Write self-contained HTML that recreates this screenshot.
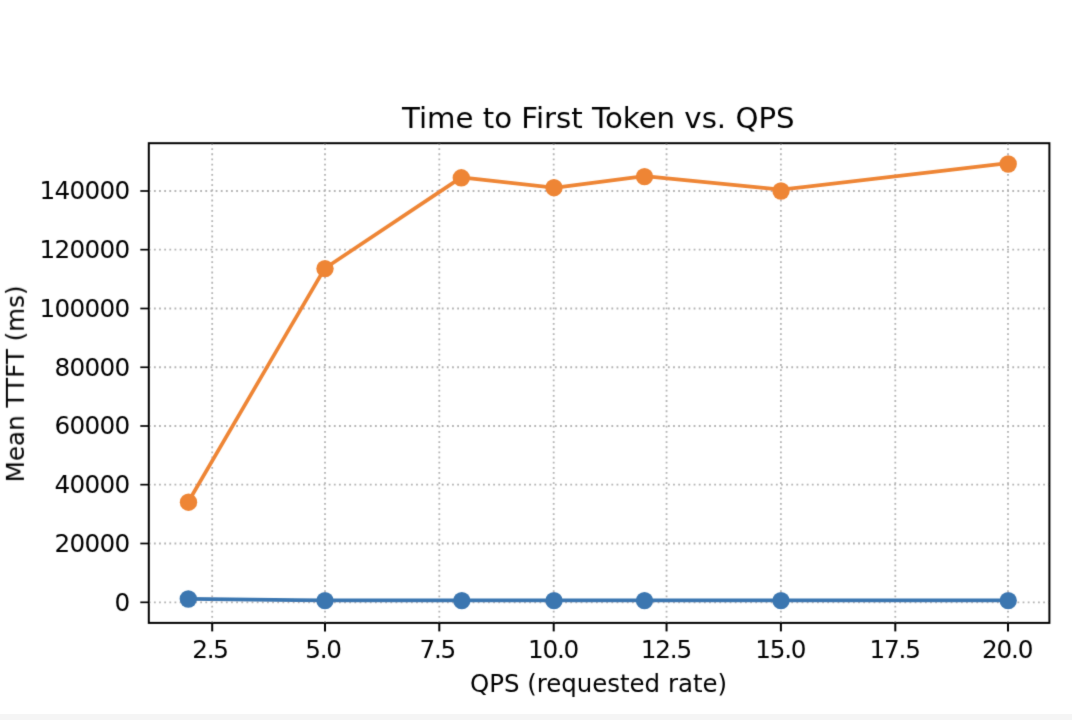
<!DOCTYPE html><html><head><meta charset="utf-8"><title>Time to First Token vs. QPS</title>
<style>html,body{margin:0;padding:0;background:#fff;overflow:hidden}body{width:1072px;height:720px;position:relative}svg{position:absolute;left:0;top:0;display:block}text{font-family:"DejaVu Sans","Liberation Sans",sans-serif;fill:#000}</style></head><body>
<svg width="1072" height="720" viewBox="0 0 1072 720">
<rect x="0" y="0" width="1072" height="720" fill="#ffffff"/>
<rect x="0" y="714" width="1072" height="6" fill="#f5f5f5"/>
<defs><filter id="soft" x="0" y="0" width="1072" height="720" filterUnits="userSpaceOnUse"><feConvolveMatrix order="3" kernelMatrix="0.01440 0.09120 0.01440 0.09120 0.57760 0.09120 0.01440 0.09120 0.01440" divisor="1" edgeMode="duplicate" preserveAlpha="false"/></filter></defs>
<g filter="url(#soft)">
<g stroke="#b3b3b3" stroke-width="1.8" stroke-dasharray="1.8 3.34" fill="none">
<line x1="212.2" y1="622.9" x2="212.2" y2="143.2"/>
<line x1="325.0" y1="622.9" x2="325.0" y2="143.2"/>
<line x1="439.3" y1="622.9" x2="439.3" y2="143.2"/>
<line x1="553.7" y1="622.9" x2="553.7" y2="143.2"/>
<line x1="666.55" y1="622.9" x2="666.55" y2="143.2"/>
<line x1="780.9" y1="622.9" x2="780.9" y2="143.2"/>
<line x1="895.3" y1="622.9" x2="895.3" y2="143.2"/>
<line x1="1008.0" y1="622.9" x2="1008.0" y2="143.2"/>
<line x1="148.8" y1="191.0" x2="1049.4" y2="191.0"/>
<line x1="148.8" y1="249.67" x2="1049.4" y2="249.67"/>
<line x1="148.8" y1="308.5" x2="1049.4" y2="308.5"/>
<line x1="148.8" y1="367.27" x2="1049.4" y2="367.27"/>
<line x1="148.8" y1="426.0" x2="1049.4" y2="426.0"/>
<line x1="148.8" y1="484.67" x2="1049.4" y2="484.67"/>
<line x1="148.8" y1="543.5" x2="1049.4" y2="543.5"/>
<line x1="148.8" y1="602.33" x2="1049.4" y2="602.33"/>
</g>
<polyline points="188.3,598.8 325.0,600.4 461.8,600.4 554.0,600.4 644.5,600.4 781.0,600.4 1008.2,600.4" fill="none" stroke="#3a76b0" stroke-width="3.7" stroke-linejoin="round" stroke-linecap="butt"/>
<circle cx="188.3" cy="599.0" r="8.7" fill="#3a76b0"/>
<circle cx="325.0" cy="600.6" r="8.7" fill="#3a76b0"/>
<circle cx="461.8" cy="600.6" r="8.7" fill="#3a76b0"/>
<circle cx="554.0" cy="600.6" r="8.7" fill="#3a76b0"/>
<circle cx="644.5" cy="600.6" r="8.7" fill="#3a76b0"/>
<circle cx="781.0" cy="600.6" r="8.7" fill="#3a76b0"/>
<circle cx="1008.2" cy="600.6" r="8.7" fill="#3a76b0"/>
<polyline points="188.05,502.2 324.65,268.45 461.3,177.35 554.0,187.8 644.5,176.2 781.0,189.6 1008.2,163.1" fill="none" stroke="#ee8535" stroke-width="3.7" stroke-linejoin="round" stroke-linecap="butt"/>
<circle cx="188.5" cy="502.2" r="8.7" fill="#ee8535"/>
<circle cx="325.0" cy="268.6" r="8.7" fill="#ee8535"/>
<circle cx="461.3" cy="177.8" r="8.7" fill="#ee8535"/>
<circle cx="554.0" cy="187.7" r="8.7" fill="#ee8535"/>
<circle cx="644.5" cy="176.6" r="8.7" fill="#ee8535"/>
<circle cx="781.0" cy="191.0" r="8.7" fill="#ee8535"/>
<circle cx="1008.2" cy="164.0" r="8.7" fill="#ee8535"/>
<rect x="148.8" y="143.2" width="900.60" height="479.70" fill="none" stroke="#000000" stroke-width="2.0"/>
<g stroke="#000000" stroke-width="2.0">
<line x1="212.2" y1="622.9" x2="212.2" y2="631.4"/>
<line x1="325.0" y1="622.9" x2="325.0" y2="631.4"/>
<line x1="439.3" y1="622.9" x2="439.3" y2="631.4"/>
<line x1="553.7" y1="622.9" x2="553.7" y2="631.4"/>
<line x1="666.55" y1="622.9" x2="666.55" y2="631.4"/>
<line x1="780.9" y1="622.9" x2="780.9" y2="631.4"/>
<line x1="895.3" y1="622.9" x2="895.3" y2="631.4"/>
<line x1="1008.0" y1="622.9" x2="1008.0" y2="631.4"/>
<line x1="148.8" y1="191.0" x2="140.3" y2="191.0" stroke-width="1.7"/>
<line x1="148.8" y1="249.67" x2="140.3" y2="249.67" stroke-width="1.7"/>
<line x1="148.8" y1="308.5" x2="140.3" y2="308.5" stroke-width="1.7"/>
<line x1="148.8" y1="367.27" x2="140.3" y2="367.27" stroke-width="1.7"/>
<line x1="148.8" y1="426.0" x2="140.3" y2="426.0" stroke-width="1.7"/>
<line x1="148.8" y1="484.67" x2="140.3" y2="484.67" stroke-width="1.7"/>
<line x1="148.8" y1="543.5" x2="140.3" y2="543.5" stroke-width="1.7"/>
<line x1="148.8" y1="602.33" x2="140.3" y2="602.33" stroke-width="1.7"/>
</g>
<g font-size="24.3">
<text x="210.00" y="658.2" text-anchor="middle" letter-spacing="-1.2" font-size="24.7">2.5</text>
<text x="323.00" y="658.2" text-anchor="middle" letter-spacing="-1.2" font-size="24.7">5.0</text>
<text x="437.30" y="658.2" text-anchor="middle" letter-spacing="-1.2" font-size="24.7">7.5</text>
<text x="553.00" y="658.2" text-anchor="middle" letter-spacing="-1.2" font-size="24.7">10.0</text>
<text x="665.85" y="658.2" text-anchor="middle" letter-spacing="-1.2" font-size="24.7">12.5</text>
<text x="780.30" y="658.2" text-anchor="middle" letter-spacing="-1.2" font-size="24.7">15.0</text>
<text x="894.60" y="658.2" text-anchor="middle" letter-spacing="-1.2" font-size="24.7">17.5</text>
<text x="1007.20" y="658.2" text-anchor="middle" letter-spacing="-1.2" font-size="24.7">20.0</text>
<text x="129.5" y="199.2" text-anchor="end" letter-spacing="-0.7" font-size="24.7">140000</text>
<text x="129.5" y="257.9" text-anchor="end" letter-spacing="-0.7" font-size="24.7">120000</text>
<text x="129.5" y="316.7" text-anchor="end" letter-spacing="-0.7" font-size="24.7">100000</text>
<text x="129.5" y="375.5" text-anchor="end" letter-spacing="-0.7" font-size="24.7">80000</text>
<text x="129.5" y="434.2" text-anchor="end" letter-spacing="-0.7" font-size="24.7">60000</text>
<text x="129.5" y="492.9" text-anchor="end" letter-spacing="-0.7" font-size="24.7">40000</text>
<text x="129.5" y="551.7" text-anchor="end" letter-spacing="-0.7" font-size="24.7">20000</text>
<text x="129.5" y="610.5" text-anchor="end" letter-spacing="-0.7" font-size="24.7">0</text>
<text x="598.5" y="691.9" text-anchor="middle" font-size="24.45">QPS (requested rate)</text>
<text transform="translate(23.9,383.8) rotate(-90)" text-anchor="middle" font-size="24.6">Mean TTFT (ms)</text>
</g>
<text x="598.3" y="128" font-size="29.2" text-anchor="middle">Time to First Token vs. QPS</text>
</g>
</svg></body></html>
